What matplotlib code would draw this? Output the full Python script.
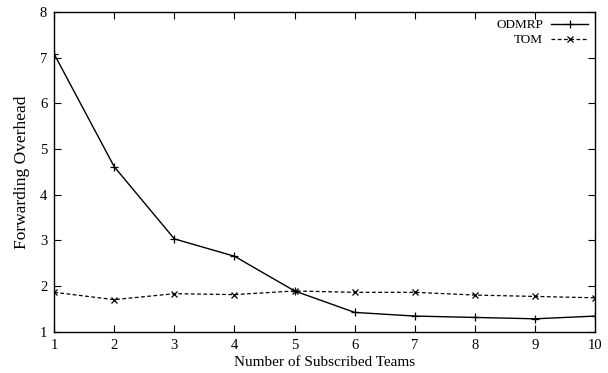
import matplotlib
matplotlib.use("Agg")
import matplotlib.pyplot as plt

teams = [1, 2, 3, 4, 5, 6, 7, 8, 9, 10]
odmrp = [7.08, 4.61, 3.03, 2.65, 1.89, 1.42, 1.34, 1.31, 1.28, 1.34]
tom = [1.86, 1.70, 1.83, 1.81, 1.89, 1.86, 1.86, 1.80, 1.77, 1.74]
xticks = [1, 2, 3, 4, 5, 6, 7, 8, 9, 10]
yticks = [1, 2, 3, 4, 5, 6, 7, 8]

plt.rcParams['font.family'] = ['Liberation Serif', 'DejaVu Serif']

fig = plt.figure(figsize=(6.08, 3.73), dpi=100)
ax = fig.add_axes([0.089, 0.111, 0.89, 0.857])

ax.plot(teams, odmrp, color='black', lw=1.0, marker='+', ms=6, mew=0.9, label='ODMRP')
ax.plot(teams, tom, color='black', lw=0.9, ls=(0, (3, 2)), marker='x', ms=5, mew=0.9, label='TOM')

ax.set_xlim(1, 10)
ax.set_ylim(1, 8)
ax.set_xticks(xticks)
ax.set_yticks(yticks)
ax.tick_params(direction='in', top=True, right=True, length=5, width=0.8, labelsize=10.5, pad=5)
for s in ax.spines.values():
    s.set_linewidth(1.0)

ax.set_xlabel('Number of Subscribed Teams', fontsize=11, labelpad=3)
ax.set_ylabel('Forwarding Overhead', fontsize=12.5, labelpad=7)

leg = ax.legend(loc='upper right', frameon=False, markerfirst=False, fontsize=9.5,
                handlelength=2.8, handletextpad=0.6, labelspacing=0.2,
                borderaxespad=0.15)

fig.savefig('out.png', dpi=100)
